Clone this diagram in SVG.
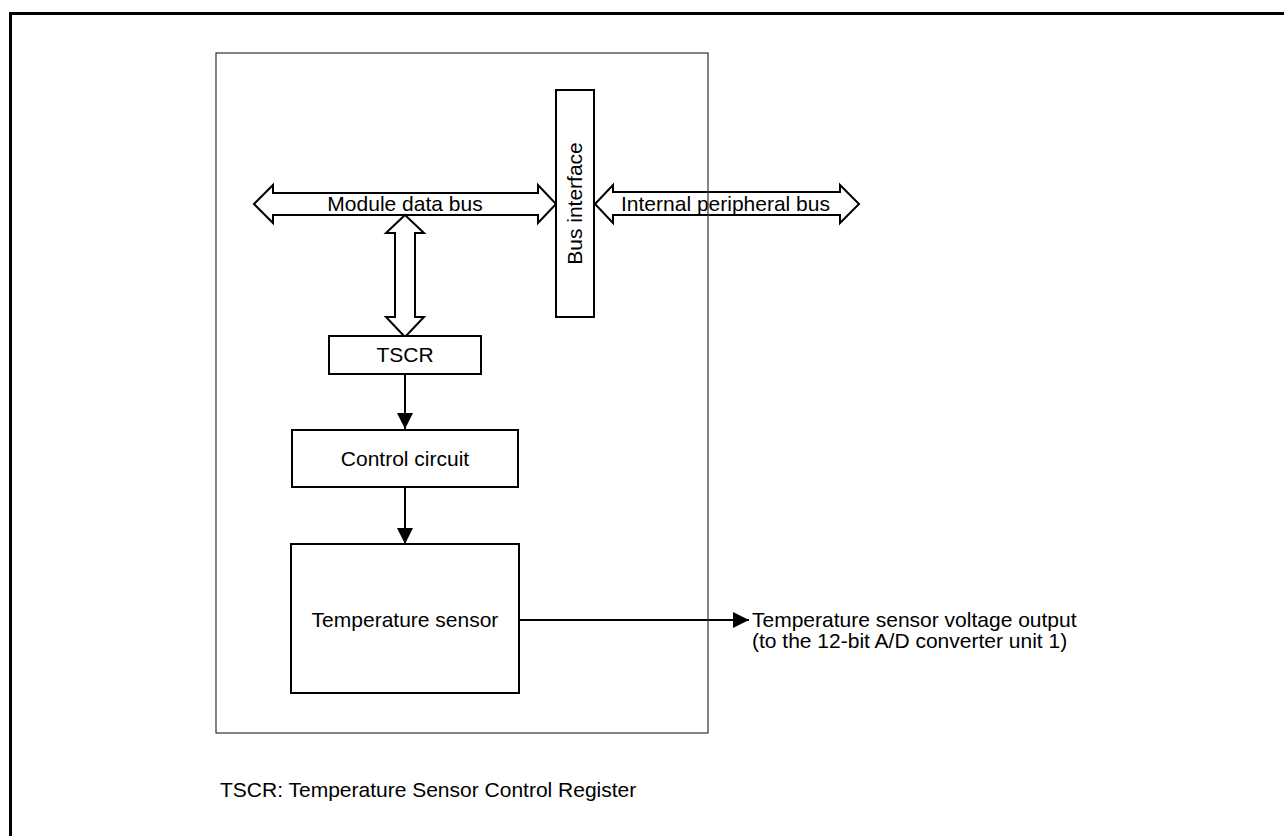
<svg xmlns="http://www.w3.org/2000/svg" width="1284" height="836" viewBox="0 0 1284 836">
<style>
text{font-family:"Liberation Sans",Arial,sans-serif;font-size:21px;fill:#000}
.box{fill:#fff;stroke:#000;stroke-width:2}
.bus{fill:#fff;stroke:#000;stroke-width:2;stroke-linejoin:miter}
.ln{stroke:#000;stroke-width:2;fill:none}
</style>
<defs>
<marker id="ah" markerWidth="16" markerHeight="16" refX="16" refY="8" orient="auto" markerUnits="userSpaceOnUse">
<path d="M0,0 L16,8 L0,16 Z" fill="#000"/>
</marker>
</defs>
<rect width="1284" height="836" fill="#fff"/>
<g id="frame"><path d="M10.5,836 V13.5 H1284" fill="none" stroke="#000" stroke-width="3"/></g>

<g id="connectors">
<polygon class="bus" points="254,204 273,185 273,193 538,193 538,185 556,204 538,223 538,215 273,215 273,223"/>
<polygon class="bus" points="595,204 613,185 613,192 840,192 840,185 859,204 840,223 840,215 613,215 613,223"/>
<polygon class="bus" points="405,215 424,233 415,233 415,317 424,317 405,337 386,317 395,317 395,233 386,233"/>
<line class="ln" x1="405" y1="374" x2="405" y2="429" marker-end="url(#ah)"/>
<line class="ln" x1="405" y1="487" x2="405" y2="544" marker-end="url(#ah)"/>
<line class="ln" x1="519" y1="620" x2="749" y2="620" marker-end="url(#ah)"/>
<text x="405" y="211" text-anchor="middle">Module data bus</text>
<text x="621" y="211">Internal peripheral bus</text>
</g>

<g id="container"><rect x="216" y="53" width="492" height="680" fill="none" stroke="#333" stroke-width="1.2"/></g>

<g id="bus-interface">
<rect class="box" x="556" y="90" width="38" height="227"/>
<text transform="translate(582,203.5) rotate(-90)" text-anchor="middle">Bus interface</text>
</g>
<g id="tscr">
<rect class="box" x="329" y="336" width="152" height="38"/>
<text x="405" y="362" text-anchor="middle">TSCR</text>
</g>
<g id="control">
<rect class="box" x="292" y="430" width="226" height="57"/>
<text x="405" y="466" text-anchor="middle">Control circuit</text>
</g>
<g id="sensor">
<rect class="box" x="291" y="544" width="228" height="149"/>
<text x="405" y="627" text-anchor="middle">Temperature sensor</text>
</g>
<g id="output-label">
<text x="752" y="627">Temperature sensor voltage output</text>
<text x="752" y="648">(to the 12-bit A/D converter unit 1)</text>
</g>
<g id="note"><text x="220" y="797">TSCR: Temperature Sensor Control Register</text></g>
</svg>
